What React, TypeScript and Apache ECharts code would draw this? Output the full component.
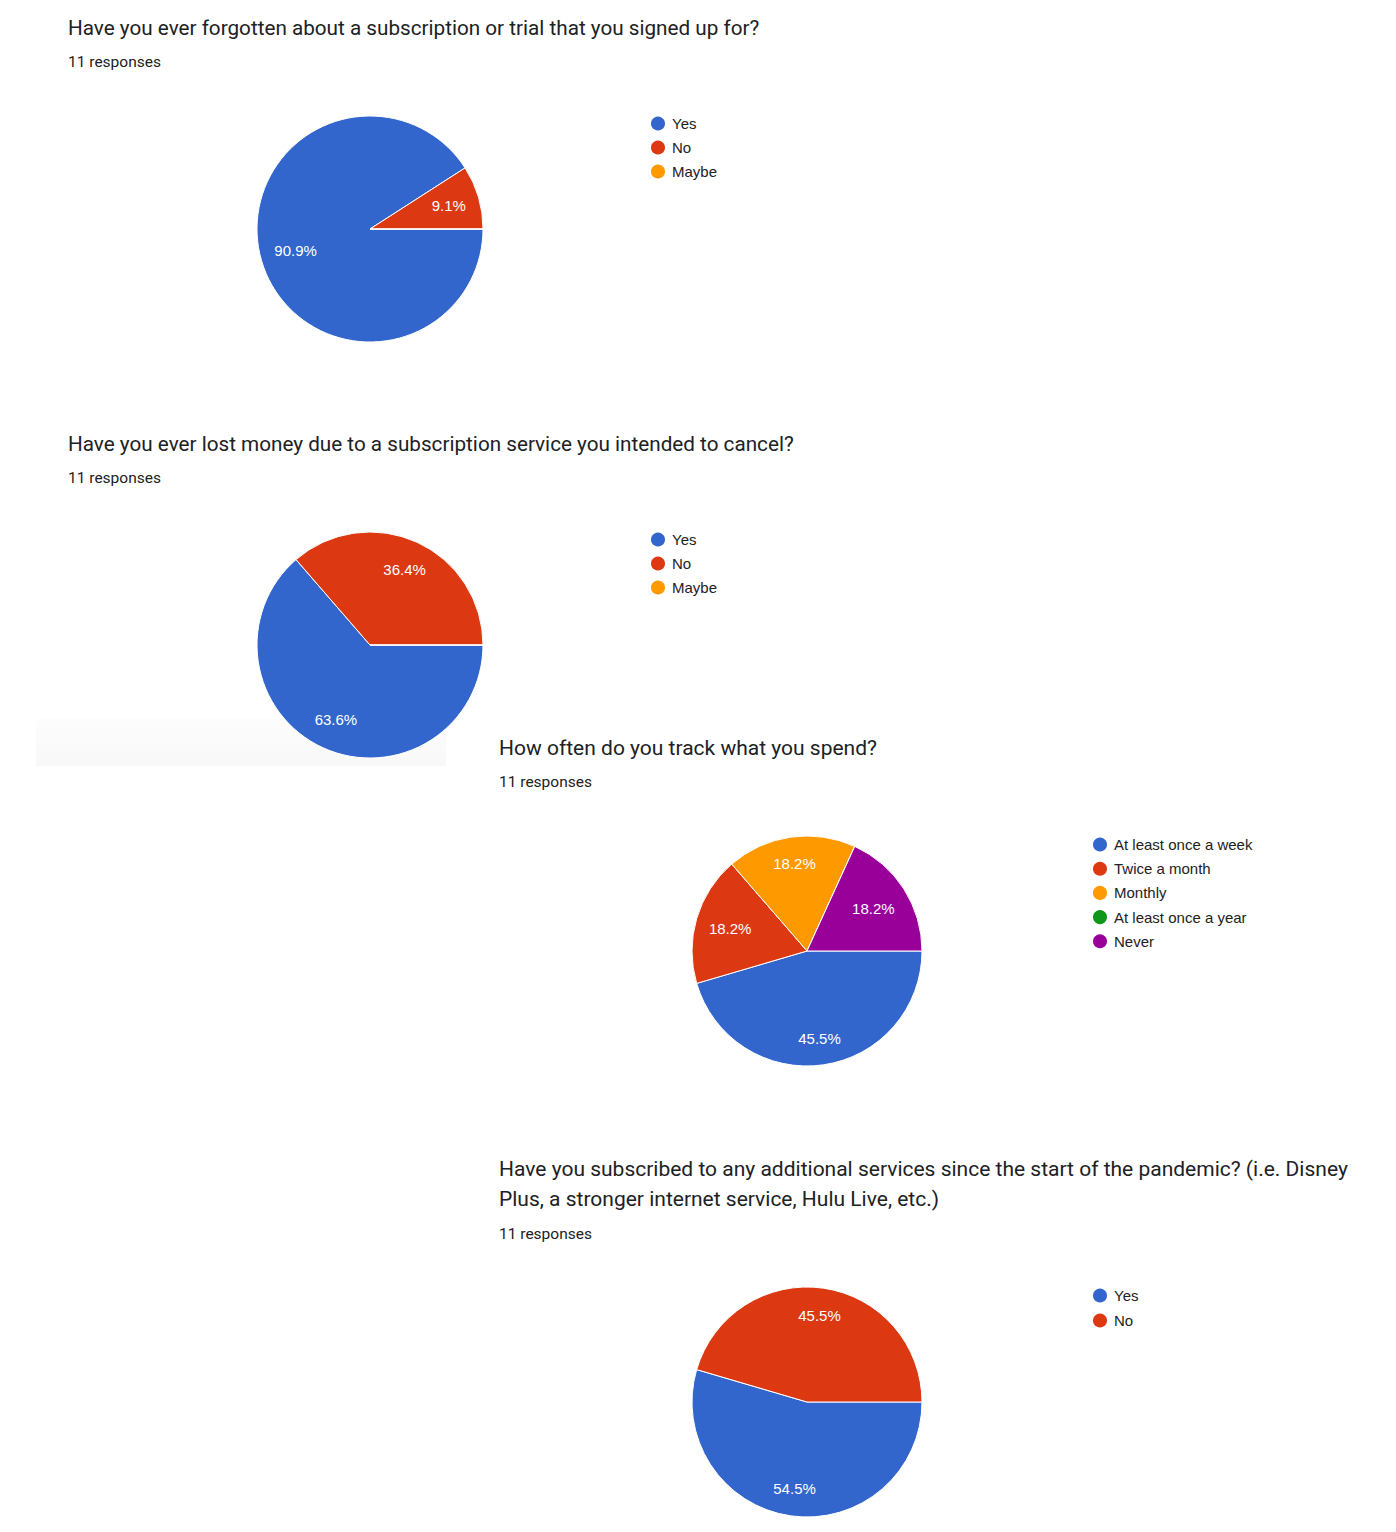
import React, { useEffect, useRef } from "react";
import * as echarts from "echarts";

// ---- Data ----
const COLORS = ["#3366cc", "#dc3912", "#ff9900", "#109618", "#990099"];

const q1Title = "Have you ever forgotten about a subscription or trial that you signed up for?";
const q1Labels = ["Yes", "No", "Maybe"];
const q1Counts = [10, 1, 0];

const q2Title = "Have you ever lost money due to a subscription service you intended to cancel?";
const q2Labels = ["Yes", "No", "Maybe"];
const q2Counts = [7, 4, 0];

const q3Title = "How often do you track what you spend?";
const q3Labels = ["At least once a week", "Twice a month", "Monthly", "At least once a year", "Never"];
const q3Counts = [5, 2, 2, 0, 2];

const q4Title =
  "Have you subscribed to any additional services since the start of the pandemic? (i.e. Disney\nPlus, a stronger internet service, Hulu Live, etc.)";
const q4Labels = ["Yes", "No"];
const q4Counts = [6, 5];

const responsesText = "11 responses";

// ---- Layout / style per chart ----
const charts = [
  {
    title: q1Title, labels: q1Labels, counts: q1Counts,
    tx: 68, tTop: 13, rTop: 52, tSize: 20.7,
    cx: 370, cy: 229, r: 113,
    lx: 649, ly: 114.5, lgap: 6,
    ratios: [0.66, 0.7, 0.7],
  },
  {
    title: q2Title, labels: q2Labels, counts: q2Counts,
    tx: 68, tTop: 429, rTop: 468, tSize: 20.7,
    cx: 370, cy: 645, r: 113,
    lx: 649, ly: 530.5, lgap: 6,
    ratios: [0.7, 0.71, 0.7],
  },
  {
    title: q3Title, labels: q3Labels, counts: q3Counts,
    tx: 499, tTop: 733, rTop: 772, tSize: 21,
    cx: 807, cy: 951, r: 115,
    lx: 1091, ly: 835.5, lgap: 6.2,
    ratios: [0.74, 0.67, 0.74, 0.7, 0.66],
  },
  {
    title: q4Title, labels: q4Labels, counts: q4Counts,
    tx: 499, tTop: 1154, rTop: 1224, tSize: 21,
    cx: 807, cy: 1402, r: 115,
    lx: 1091, ly: 1286.5, lgap: 7,
    ratios: [0.735, 0.735],
  },
];

const TITLE_FONT = "Roboto, 'Noto Sans', Arial, sans-serif";
const BODY_FONT = "'Liberation Sans', Arial, Helvetica, sans-serif";

function buildOption() {
  const title: any[] = [];
  const legend: any[] = [];
  const series: any[] = [];

  charts.forEach((c, ci) => {
    title.push({
      text: c.title,
      left: c.tx,
      top: c.tTop,
      padding: 0,
      textStyle: {
        fontFamily: TITLE_FONT,
        fontSize: c.tSize,
        fontWeight: "normal",
        color: "#202124",
        lineHeight: 30,
      },
    });
    title.push({
      text: responsesText,
      left: c.tx,
      top: c.rTop,
      padding: 0,
      textStyle: {
        fontFamily: TITLE_FONT,
        fontSize: 15.5,
        fontWeight: "normal",
        color: "#202124",
        lineHeight: 20,
      },
    });

    const total = c.counts.reduce((a, b) => a + b, 0);
    const data = c.labels.map((name, i) => ({
      name,
      value: c.counts[i],
      itemStyle: { color: COLORS[i] },
    }));

    legend.push({
      orient: "vertical",
      left: c.lx,
      top: c.ly,
      padding: 0,
      itemWidth: 16,
      itemHeight: 16,
      itemGap: c.lgap,
      icon: "circle",
      selectedMode: false,
      textStyle: { fontFamily: BODY_FONT, fontSize: 15, color: "#222222", padding: [0, 0, 0, 1] },
      data: c.labels.map((name, i) => ({ name, itemStyle: { color: COLORS[i] } })),
    });

    series.push({
      type: "pie",
      id: "pie" + ci,
      center: [c.cx, c.cy],
      radius: [0, c.r],
      startAngle: 0,
      clockwise: true,
      silent: true,
      label: { show: false },
      labelLine: { show: false },
      emphasis: { disabled: true },
      itemStyle: { borderColor: "#ffffff", borderWidth: 1 },
      data,
    });

    // Label layers: one transparent ring per label radius ratio
    const uniq = Array.from(new Set(c.ratios));
    uniq.forEach((ratio, k) => {
      const r0 = (2 * ratio - 1) * c.r;
      series.push({
        type: "pie",
        id: "lab" + ci + "_" + k,
        center: [c.cx, c.cy],
        radius: [r0, c.r],
        startAngle: 0,
        clockwise: true,
        silent: true,
        emphasis: { disabled: true },
        itemStyle: { color: "rgba(0,0,0,0)", borderWidth: 0 },
        labelLine: { show: false },
        label: {
          show: true,
          position: "inside",
          color: "#ffffff",
          fontFamily: BODY_FONT,
          fontSize: 15,
          fontWeight: "normal",
          formatter: (p: any) => {
            if (!p.value || c.ratios[p.dataIndex] !== ratio) return "";
            return ((p.value / total) * 100).toFixed(1) + "%";
          },
        },
        data: c.labels.map((name, i) => ({ name, value: c.counts[i] })),
      });
    });
  });

  return {
    animation: false,
    backgroundColor: "#ffffff",
    title,
    legend,
    graphic: [
      {
        type: "rect",
        shape: { x: 36, y: 718, width: 410, height: 48 },
        style: {
          fill: new echarts.graphic.LinearGradient(0, 0, 0, 1, [
            { offset: 0, color: "#fdfdfd" },
            { offset: 1, color: "#f8f8f8" },
          ]),
        },
        z: -10,
        silent: true,
      },
    ],
    series,
  };
}

export default function App() {
  const ref = useRef<HTMLDivElement>(null);
  useEffect(() => {
    if (!ref.current) return;
    const chart = echarts.init(ref.current, undefined, { renderer: "svg" });
    chart.setOption(buildOption() as any);
    return () => chart.dispose();
  }, []);
  return (
    <div
      ref={ref}
      style={{ position: "absolute", left: 0, top: 0, width: 1396, height: 1532, background: "#fff" }}
    />
  );
}
